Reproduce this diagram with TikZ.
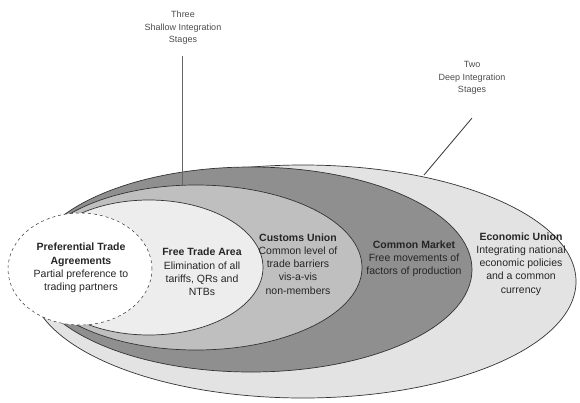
\documentclass[tikz,border=0pt]{standalone}
\usepackage{fontspec}
\setmainfont{Liberation Sans}
\usetikzlibrary{shapes.geometric}

\definecolor{euGray}{gray}{0.89}
\definecolor{cmGray}{gray}{0.56}
\definecolor{cuGray}{gray}{0.75}
\definecolor{ftaGray}{gray}{0.93}

\tikzset{
    stage/.style={ellipse, draw=black!80, line width=0.7pt, inner sep=0pt},
    stagetext/.style={align=center, text=black!85, font=\fontsize{10.5}{13.2}\selectfont},
    tiplabel/.style={align=center, text=black!70, font=\fontsize{9}{12.5}\selectfont},
}

\begin{document}
\begin{tikzpicture}[x=1pt, y=-1pt]
        \useasboundingbox (0,0) rectangle (580,402);

        \node[stage, fill=euGray,  minimum width=546pt, minimum height=233pt] (eu)  at (303,281.5) {};
        \node[stage, fill=cmGray,  minimum width=442pt, minimum height=205pt] (cm)  at (251,269.5) {};
        \node[stage, fill=cuGray,  minimum width=332pt, minimum height=165pt] (cu)  at (196,267.5) {};
        \node[stage, fill=ftaGray, minimum width=228pt, minimum height=135pt] (fta) at (149,267.5) {};
        \node[stage, fill=white, dashed, line width=0.5pt, minimum width=144pt, minimum height=112pt] (pta) at (80,269) {};

        \node[stagetext] (ptatxt) at (81,268) {\textbf{Preferential Trade}\\\textbf{Agreements}\\Partial preference to\\trading partners};
        \node[stagetext] (ftatxt) at (202,272) {\textbf{Free Trade Area}\\Elimination of all\\tariffs, QRs and\\NTBs};
        \node[stagetext] (cutxt)  at (298,264) {\textbf{Customs Union}\\Common level of\\trade barriers\\vis-a-vis\\non-members};
        \node[stagetext] (cmtxt)  at (414,259) {\textbf{Common Market}\\Free movements of\\factors of production};
        \node[stagetext] (eutxt)  at (521,264) {\textbf{Economic Union}\\Integrating national\\economic policies\\and a common\\currency};

        \node[tiplabel] (shallow) at (183,28) {Three\\Shallow Integration\\Stages};
        \node[tiplabel] (deep)    at (472,78) {Two\\Deep Integration\\Stages};

        \coordinate (cutop) at (182,185);
        \coordinate (eutop) at (424,175);
        \coordinate (deepend) at ([yshift=-20pt]deep.south);

        \draw[black!60, line width=0.8pt, shorten <=8pt] (shallow.south -| cutop) -- (cutop);
        \draw[black!80, line width=0.8pt] (deepend) -- (eutop);
    \end{tikzpicture}
\end{document}
